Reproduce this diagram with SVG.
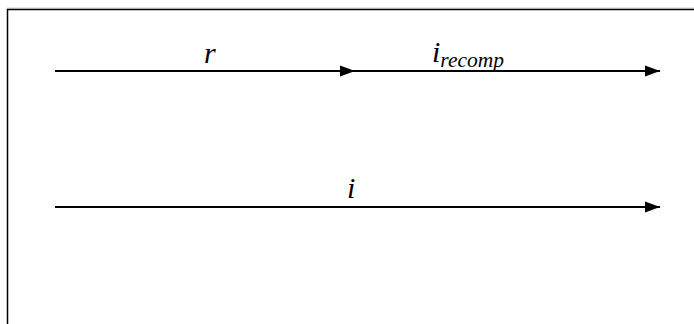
<svg xmlns="http://www.w3.org/2000/svg" width="694" height="324" viewBox="0 0 694 324">
<style>
.lbl{font-family:"Liberation Serif","Times New Roman",serif;font-style:italic;fill:#000}
.edge{stroke:#000;stroke-width:2;fill:none}
</style>
<defs>
<marker id="arr" markerWidth="16" markerHeight="12" refX="15" refY="6" orient="auto" markerUnits="userSpaceOnUse">
<path d="M0,0.5 L15,6 L0,11.5 Z" fill="#000"/>
</marker>
</defs>
<rect width="694" height="324" fill="#fff"/>
<line x1="7" y1="8" x2="694" y2="8" stroke="#ccc" stroke-width="1"/>
<path d="M7.5,324 V9.5 H694" fill="none" stroke="#000" stroke-width="1.5"/>
<g id="connectors">
<line class="edge" x1="55" y1="71" x2="355" y2="71" marker-end="url(#arr)"/>
<line class="edge" x1="355" y1="71" x2="660" y2="71" marker-end="url(#arr)"/>
<line class="edge" x1="55" y1="207" x2="660" y2="207" marker-end="url(#arr)"/>
</g>
<g id="label-r"><text class="lbl" x="204" y="63" font-size="30">r</text></g>
<g id="label-irecomp"><text class="lbl" x="432" y="62" font-size="30">i<tspan font-size="21.5" dy="5">recomp</tspan></text></g>
<g id="label-i"><text class="lbl" x="347" y="198" font-size="30">i</text></g>
</svg>
